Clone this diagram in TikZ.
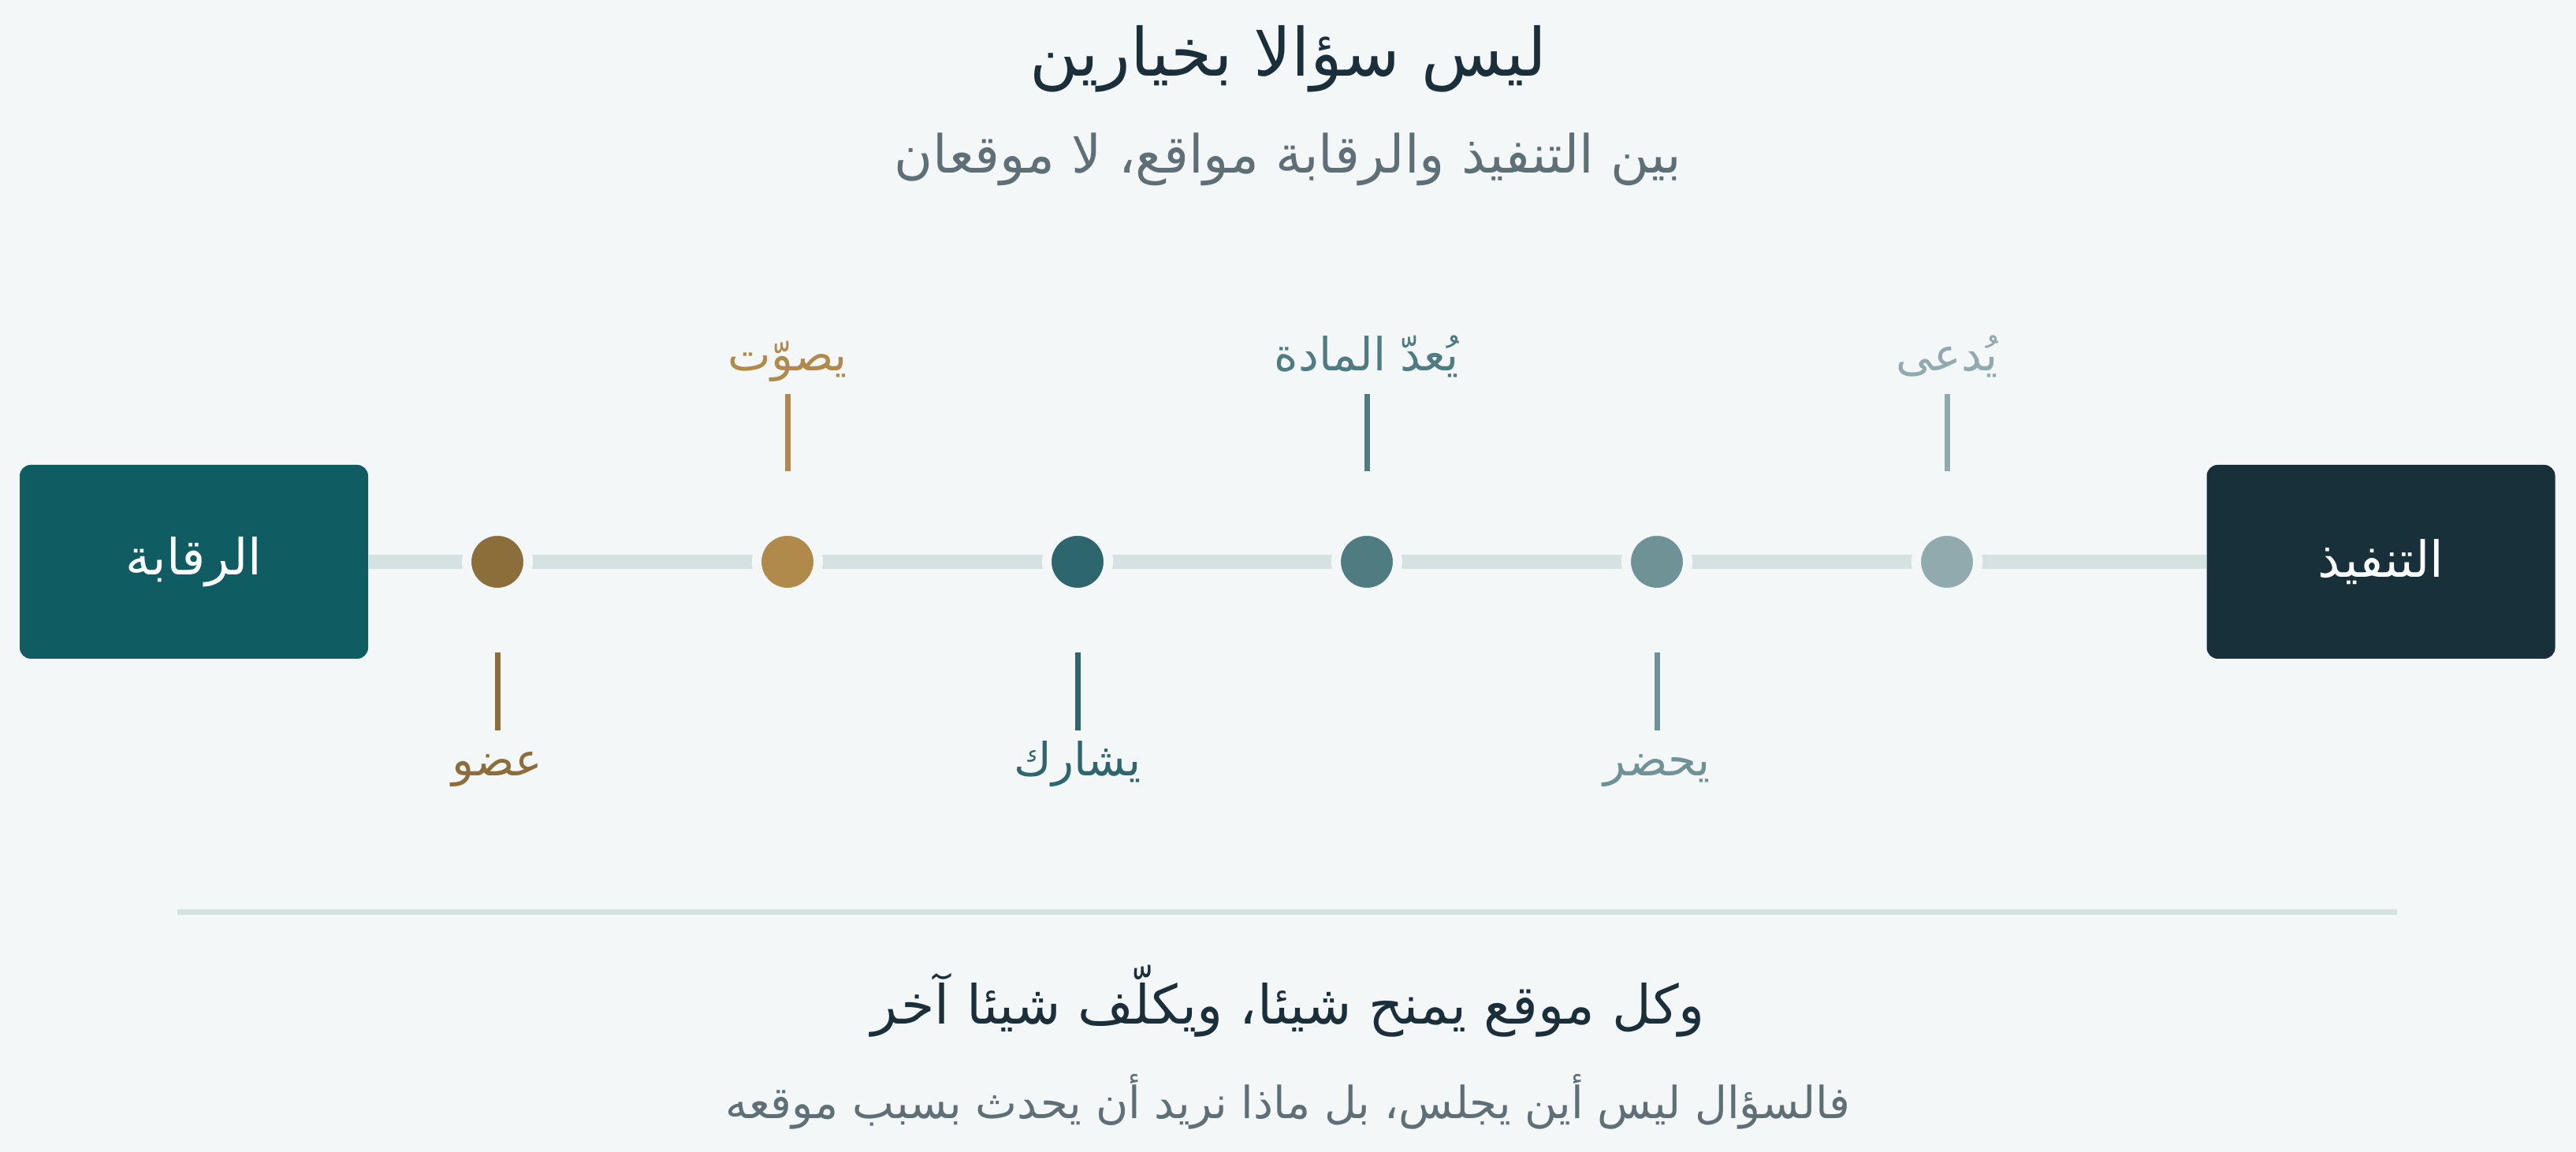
\documentclass[tikz,border=0pt]{standalone}
\usepackage{fontspec}
\TeXXeTstate=1
\newfontfamily\arabicfont[Script=Arabic]{DejaVu Sans}
\definecolor{bgcol}{HTML}{F3F7F8}
\definecolor{railcol}{HTML}{D6E2E1}
\definecolor{inkdark}{HTML}{1A2F39}
\definecolor{inkgray}{HTML}{5F6F76}
\definecolor{ctrlfill}{HTML}{105C63}
\definecolor{execfill}{HTML}{18303A}
\definecolor{stA}{HTML}{8C6E3A}
\definecolor{stB}{HTML}{B08A4A}
\definecolor{stC}{HTML}{2D666C}
\definecolor{stD}{HTML}{4E7C80}
\definecolor{stE}{HTML}{6E9295}
\definecolor{stF}{HTML}{91AAAE}
\begin{document}
\begin{tikzpicture}[font=\arabicfont, line cap=butt,
	posbox/.style={rounded corners=0.14cm, minimum width=4.42cm, minimum height=2.46cm, text=white, font=\arabicfont\fontsize{18}{22}\selectfont},
	stopdot/.style={circle, draw=bgcol, line width=0.12cm, minimum size=0.78cm, inner sep=0pt},
	tick/.style={line width=0.07cm},
	lbl/.style={anchor=base, font=\arabicfont\fontsize{16.5}{20}\selectfont}]
	\fill[bgcol] (0,0) rectangle (32.68,14.62);
	% heading
	\node[anchor=base, text=inkdark, font=\arabicfont\fontsize{24}{28}\selectfont] (title) at (16.34,13.65) {\beginR ليس سؤالا بخيارين\endR};
	\node[anchor=base, text=inkgray, font=\arabicfont\fontsize{19}{23}\selectfont] (subtitle) at (16.34,12.42) {\beginR بين التنفيذ والرقابة مواقع، لا موقعان\endR};
	% the two ends
	\node[posbox, fill=ctrlfill] (ctrl) at (2.46,7.49) {\beginR الرقابة\endR};
	\node[posbox, fill=execfill] (exec) at (30.205,7.49) {\beginR التنفيذ\endR};
	\draw[railcol, line width=0.18cm] (ctrl) -- (exec);
	\foreach \i/\x/\col in {1/6.31/stA, 2/9.99/stB, 3/13.67/stC, 4/17.34/stD, 5/21.02/stE, 6/24.70/stF}
		\node[stopdot, fill=\col] (c\i) at (\x,7.49) {};
	% labels above
	\foreach \i/\col/\txt in {2/stB/يصوّت, 4/stD/يُعدّ المادة, 6/stF/يُدعى} {
		\coordinate (t\i a) at ([yshift=1.15cm]c\i.center);
		\coordinate (t\i b) at ([yshift=2.13cm]c\i.center);
		\draw[tick, \col] (t\i a) -- (t\i b);
		\node[lbl, text=\col] (l\i) at ([yshift=2.42cm]c\i.center) {\beginR \txt\endR};
	}
	% labels below
	\foreach \i/\col/\txt in {1/stA/عضو, 3/stC/يشارك, 5/stE/يحضر} {
		\coordinate (t\i a) at ([yshift=-1.15cm]c\i.center);
		\coordinate (t\i b) at ([yshift=-2.14cm]c\i.center);
		\draw[tick, \col] (t\i a) -- (t\i b);
		\node[lbl, text=\col] (l\i) at ([yshift=-2.72cm]c\i.center) {\beginR \txt\endR};
	}
	% closing lines
	\coordinate (sepL) at (2.25,3.04);
	\coordinate (sepR) at (30.41,3.04);
	\draw[railcol, line width=0.07cm] (sepL) -- (sepR);
	\node[anchor=base, text=inkdark, font=\arabicfont\fontsize{19.5}{23}\selectfont] (moral) at (16.34,1.62) {\beginR وكل موقع يمنح شيئا، ويكلّف شيئا آخر\endR};
	\node[anchor=base, text=inkgray, font=\arabicfont\fontsize{16}{20}\selectfont] (closing) at (16.34,0.42) {\beginR فالسؤال ليس أين يجلس، بل ماذا نريد أن يحدث بسبب موقعه\endR};
\end{tikzpicture}
\end{document}
